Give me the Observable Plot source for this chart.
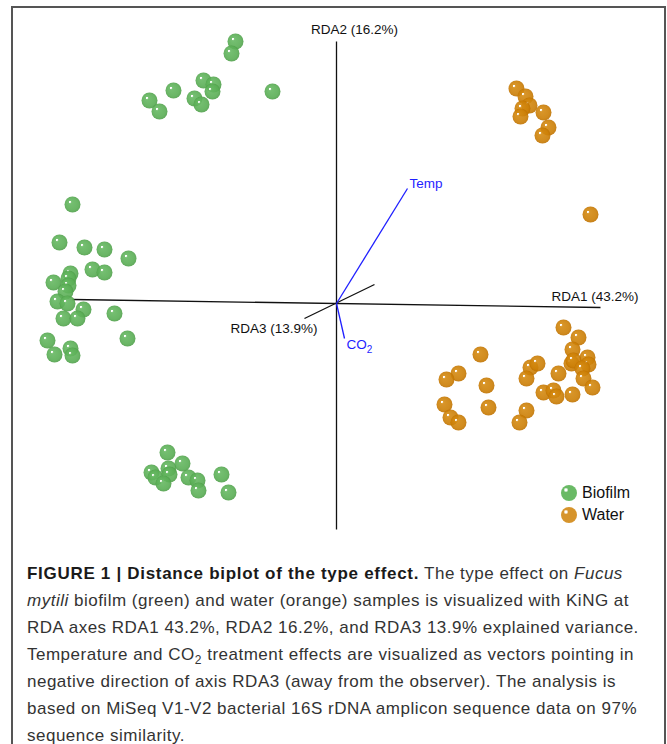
<!DOCTYPE html>
<html>
<head>
<meta charset="utf-8">
<script src="https://cdn.jsdelivr.net/npm/d3@7"></script>
<script src="https://cdn.jsdelivr.net/npm/@observablehq/plot@0.6"></script>
<style>
  html, body { margin: 0; padding: 0; background: #fff; }
  body { width: 667px; height: 744px; overflow: hidden; position: relative; font-family: "Liberation Sans", Arial, sans-serif; }
  #frame { position: absolute; left: 11px; top: 6px; width: 651px; height: 800px; border: 2px solid #555; }
  #chart { position: absolute; left: 0; top: 0; }
  #legend { position: absolute; left: 548px; top: 474px; font-size: 16px; color: #111; }
  #legend .row { height: 22px; line-height: 22px; display: flex; align-items: center; }
  #legend .sw { width: 16px; height: 16px; border-radius: 50%; margin-right: 5px; }
  #caption { position: absolute; left: 14px; top: 552px; font-size: 17px; line-height: 27px; color: #333; letter-spacing: 0.5px; white-space: nowrap; }
  #caption b { color: #1a1a1a; letter-spacing: 0.7px; }
</style>
</head>
<body>
<div id="frame">
  <div id="chart"></div>
  <div id="legend"></div>
  <div id="caption">
    <div><b>FIGURE 1 | Distance biplot of the type effect.</b> The type effect on <i>Fucus</i></div>
    <div><i>mytili</i> biofilm (green) and water (orange) samples is visualized with KiNG at</div>
    <div>RDA axes RDA1 43.2%, RDA2 16.2%, and RDA3 13.9% explained variance.</div>
    <div>Temperature and CO<sub style="font-size:12px;line-height:0">2</sub> treatment effects are visualized as vectors pointing in</div>
    <div>negative direction of axis RDA3 (away from the observer). The analysis is</div>
    <div>based on MiSeq V1-V2 bacterial 16S rDNA amplicon sequence data on 97%</div>
    <div>sequence similarity.</div>
  </div>
</div>
<script>
// ---- data (RDA projected scores) ----
const groups = ["Biofilm", "Water"];

const biofilmX = [-1.01, -1.05, -1.33, -1.23, -1.24, -1.63, -1.42, -1.35, -1.87, -1.77, -0.64,
  -2.64, -2.77, -2.52, -2.32, -2.08, -2.44, -2.32, -2.66, -2.68, -2.83, -2.68, -2.71, -2.79, -2.69,
  -2.53, -2.73, -2.59, -2.22, -2.89, -2.09, -2.82, -2.66, -2.64,
  -1.69, -1.85, -1.81, -1.68, -1.67, -1.54, -1.73, -1.48, -1.39, -1.38, -1.15, -1.08];
const biofilmY = [2.62, 2.50, 2.23, 2.19, 2.12, 2.13, 2.05, 1.99, 2.03, 1.92, 2.12,
  0.99, 0.61, 0.56, 0.54, 0.45, 0.34, 0.31, 0.30, 0.25, 0.21, 0.18, 0.12, 0.02, 0.00,
  -0.06, -0.15, -0.15, -0.10, -0.37, -0.35, -0.51, -0.45, -0.52,
  -1.49, -1.69, -1.74, -1.65, -1.71, -1.60, -1.80, -1.74, -1.77, -1.87, -1.71, -1.89];

const waterX = [1.80, 1.89, 1.93, 1.86, 1.84, 2.07, 2.12, 2.06, 2.54,
  2.27, 2.42, 2.36, 2.51, 2.35, 2.52, 2.37, 2.46, 1.44, 1.22, 1.10, 1.50, 1.94, 2.01, 1.90,
  2.22, 2.47, 2.56, 2.07, 2.17, 2.20, 2.36, 1.08, 1.52, 1.14, 1.22, 1.90, 1.83];
const waterY = [2.15, 2.07, 1.98, 1.95, 1.87, 1.91, 1.76, 1.68, 0.89,
  -0.24, -0.34, -0.46, -0.54, -0.60, -0.61, -0.57, -0.65, -0.51, -0.70, -0.76, -0.82, -0.64, -0.60, -0.75,
  -0.70, -0.75, -0.84, -0.89, -0.87, -0.93, -0.91, -1.01, -1.04, -1.14, -1.19, -1.07, -1.19];

const axisLabels = ["RDA1 (43.2%)", "RDA2 (16.2%)", "RDA3 (13.9%)"];
const axisStartX = [-2.64, 0, -0.32];
const axisStartY = [0.04, -2.26, -0.15];
const axisEndX = [2.64, 0, 0.38];
const axisEndY = [-0.04, 2.62, 0.19];

const vectorLabels = ["Temp", "CO₂"];
const vectorX = [0.71, 0.08];
const vectorY = [1.15, -0.35];

// ---- build tables ----
const biofilm = biofilmX.map((x, i) => ({x, y: biofilmY[i], type: groups[0]}));
const water = waterX.map((x, i) => ({x, y: waterY[i], type: groups[1]}));
const axes = axisLabels.map((label, i) => ({label, x1: axisStartX[i], y1: axisStartY[i], x2: axisEndX[i], y2: axisEndY[i]}));
const vectors = vectorLabels.map((label, i) => ({label, x1: 0, y1: 0, x2: vectorX[i], y2: vectorY[i]}));

const W = 651, H = 537;
const font = "Liberation Sans, Arial, sans-serif";

const svg = Plot.plot({
  width: W, height: H,
  marginTop: 0, marginRight: 0, marginBottom: 0, marginLeft: 0,
  x: {domain: [-3.23, 3.28], axis: null},
  y: {domain: [-2.42, 2.95], axis: null},
  style: {fontFamily: font, background: "transparent", overflow: "visible"},
  marks: [
    Plot.link(axes, {x1: "x1", y1: "y1", x2: "x2", y2: "y2", stroke: "#111", strokeWidth: 1.3}),
    Plot.link(vectors, {x1: "x1", y1: "y1", x2: "x2", y2: "y2", stroke: "#1f1fff", strokeWidth: 1.3}),
    Plot.text(axes.filter(d => d.label.startsWith("RDA1")), {x: "x2", y: "y2", text: "label", textAnchor: "end", dx: 38, dy: -11, fontSize: 13.5, fill: "#111"}),
    Plot.text(axes.filter(d => d.label.startsWith("RDA2")), {x: "x2", y: "y2", text: "label", textAnchor: "middle", dx: 18, dy: -12, fontSize: 13.5, fill: "#111"}),
    Plot.text(axes.filter(d => d.label.startsWith("RDA3")), {x: "x1", y: "y1", text: "label", textAnchor: "end", dx: 13, dy: 10, fontSize: 13.5, fill: "#111"}),
    Plot.text(vectors.filter(d => d.label === "Temp"), {x: "x2", y: "y2", text: "label", textAnchor: "start", dx: 2, dy: -5, fontSize: 13.5, fill: "#1f1fff"}),
    Plot.text(vectors.filter(d => d.label !== "Temp"), {x: "x2", y: "y2", text: "label", textAnchor: "start", dx: 2, dy: 6, fontSize: 13.5, fill: "#1f1fff"}),
    Plot.dot(biofilm, {x: "x", y: "y", r: 8, fill: "url(#gBio)", fillOpacity: 0.9}),
    Plot.dot(water, {x: "x", y: "y", r: 8, fill: "url(#gWat)", fillOpacity: 0.9})
  ]
});

// gradients giving the spheres their highlight
const defs = d3.select(svg).insert("defs", ":first-child");
function grad(id, light, base, dark) {
  const g = defs.append("radialGradient").attr("id", id)
    .attr("cx", 0.5).attr("cy", 0.5).attr("r", 0.5).attr("fx", 0.31).attr("fy", 0.31);
  g.append("stop").attr("offset", 0).attr("stop-color", "#fff");
  g.append("stop").attr("offset", 0.1).attr("stop-color", "#fff");
  g.append("stop").attr("offset", 0.2).attr("stop-color", light);
  g.append("stop").attr("offset", 0.8).attr("stop-color", base);
  g.append("stop").attr("offset", 1).attr("stop-color", dark);
}
grad("gBio", "#66b862", "#5aae55", "#4f9f4a");
grad("gWat", "#d48a12", "#cc7f06", "#bf7200");

// subscript for CO2
d3.select(svg).selectAll("text").filter(function () { return this.textContent === "CO₂"; })
  .each(function () {
    const t = d3.select(this);
    t.text("CO");
    t.append("tspan").attr("dy", 4).attr("font-size", 10).text("2");
  });

document.getElementById("chart").appendChild(svg);

// legend
const legendColors = {Biofilm: "#6aba66", Water: "#d6942c"};
const legend = d3.select("#legend");
groups.forEach(g => {
  const row = legend.append("div").attr("class", "row");
  row.append("div").attr("class", "sw")
    .style("background", `radial-gradient(circle at 31% 31%, #fff 0, #fff 1px, ${legendColors[g]} 2.5px, ${legendColors[g]} 100%)`);
  row.append("span").text(g);
});
</script>
</body>
</html>
